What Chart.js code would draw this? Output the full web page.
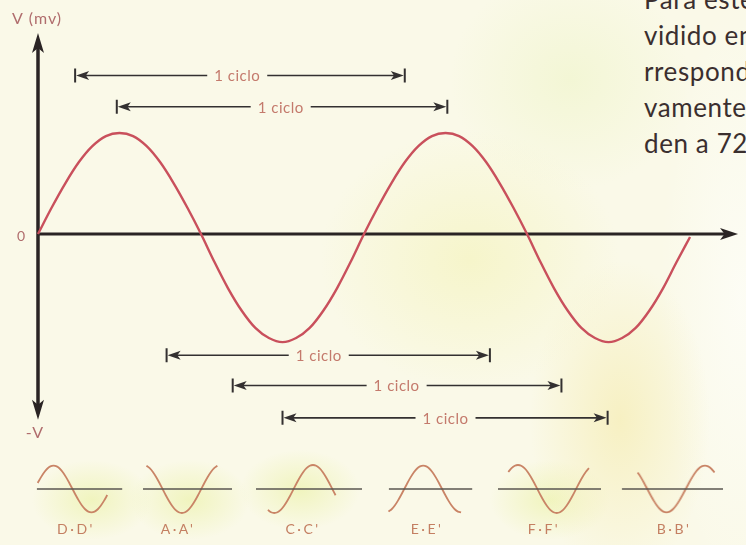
<!DOCTYPE html>
<html>
<head>
<meta charset="utf-8">
<script src="https://cdn.jsdelivr.net/npm/chart.js@4.4.1/dist/chart.umd.min.js"></script>
<style>
html,body{margin:0;padding:0}
body{
width:746px;height:545px;overflow:hidden;position:relative;
font-family:Lato,"Open Sans",sans-serif;
background:
 radial-gradient(ellipse 120px 110px at 570px 80px, rgba(240,245,205,0.7), rgba(240,245,205,0)),
 radial-gradient(ellipse 150px 130px at 470px 260px, rgba(245,244,195,0.8), rgba(245,244,195,0)),
 radial-gradient(ellipse 90px 160px at 620px 420px, rgba(246,238,185,0.8), rgba(246,238,185,0)),
 radial-gradient(ellipse 60px 40px at 92px 500px, rgba(238,243,180,0.8), rgba(238,243,180,0)),
 radial-gradient(ellipse 60px 40px at 190px 500px, rgba(238,243,180,0.8), rgba(238,243,180,0)),
 radial-gradient(ellipse 60px 40px at 300px 490px, rgba(238,243,180,0.8), rgba(238,243,180,0)),
 radial-gradient(ellipse 60px 40px at 550px 500px, rgba(238,243,180,0.8), rgba(238,243,180,0)),
 radial-gradient(ellipse 80px 300px at 740px 300px, rgba(253,253,246,0.9), rgba(253,253,246,0)),
 #faf9e8;
}
#main{position:absolute;left:0;top:0;width:746px;height:545px}
.inset{position:absolute;top:459px;height:60px}
.lbl{position:absolute;top:520px;font-size:14px;letter-spacing:2.5px;color:#c47f62;transform:translateX(-50%);white-space:nowrap}
#texto{position:absolute;left:644px;top:-19px;font-size:26px;line-height:36px;letter-spacing:0.6px;color:#3b2f2f;white-space:nowrap}
</style>
</head>
<body>

<div id="texto">Para este<br>vidido en<br>rrespond<br>vamente.<br>den a 72</div>

<div id="main"><canvas id="waveChart"></canvas></div>

<script>

// onda principal (grados, mV)
const mainDeg = [0,15,30,45,60,75,90,105,120,135,150,165,180,195,210,225,240,255,270,285,300,315,330,345,
360,375,390,405,420,435,450,465,480,495,510,525,540,555,570,585,600,615,630,645,660,675,690,705,720]
const mainVal = [0,0.26,0.5,0.71,0.87,0.97,1,0.97,0.87,0.71,0.5,0.26,0,-0.28,-0.54,-0.76,-0.93,-1.03,-1.07,-1.03,-0.93,-0.76,-0.54,-0.28,
0,0.26,0.5,0.71,0.87,0.97,1,0.97,0.87,0.71,0.5,0.26,0,-0.28,-0.54,-0.76,-0.93,-1.03,-1.07,-1.03,-0.93,-0.76,-0.54,-0.28,-0.03]

// flechas de "1 ciclo"
const cycleStart = [41,87,142,215,270]
const cycleEnd = [405,452,499,578,629]
const cycleLevel = [1.57,1.26,-1.2,-1.5,-1.82]
const cycleLabelAt = [220,268,310,396,450]
const cycleText = "1 ciclo"

// ejes
const axisTop = 1.99
const axisBottom = -1.84
const axisRight = 773

// ondas pequeñas
const shapeVal = [0,0.26,0.5,0.71,0.87,0.97,1,0.97,0.87,0.71,0.5,0.26,0,-0.26,-0.5,-0.71,-0.87,-0.97,-1,-0.97,-0.87,-0.71,-0.5,-0.26]
const insetNames = ["D·D'","A·A'","C·C'","E·E'","F·F'","B·B'"]
const insetFrom = [15,105,-120,-75,45,135]
const insetTo = [345,435,195,270,420,495]
const insetLineFrom = [11,89,-175,-73,-3,61]
const insetLineTo = [416,503,318,323,476,535]

// posicion de las ondas pequeñas en la pagina
const insetLeft = [36,143,256,388,498,621]
const insetLabelX = [76,178,303,427,544,674]
const insetPxPerDeg = 0.215

function arrowHead(ctx,tx,ty,dx,dy,len,half){
let px = -dy, py = dx
ctx.beginPath()
ctx.moveTo(tx,ty)
ctx.lineTo(tx-dx*len+px*half, ty-dy*len+py*half)
ctx.lineTo(tx-dx*len*0.75, ty-dy*len*0.75)
ctx.lineTo(tx-dx*len-px*half, ty-dy*len-py*half)
ctx.closePath()
ctx.fill()
}

const axesPlugin = {
id:'ejes',
beforeDatasetsDraw(chart){
const ctx = chart.ctx
const x = chart.scales.x
const y = chart.scales.y
let x0 = x.getPixelForValue(0)
let y0 = y.getPixelForValue(0)
let yt = y.getPixelForValue(axisTop)
let yb = y.getPixelForValue(axisBottom)
let xr = x.getPixelForValue(axisRight)

ctx.save()
ctx.strokeStyle = '#2a2424'
ctx.fillStyle = '#2a2424'
ctx.lineWidth = 3.5
ctx.beginPath()
ctx.moveTo(x0,yt+12)
ctx.lineTo(x0,yb-12)
ctx.stroke()
arrowHead(ctx,x0,yt,0,-1,20,6)
arrowHead(ctx,x0,yb,0,1,20,6)

ctx.lineWidth = 3
ctx.beginPath()
ctx.moveTo(x0,y0)
ctx.lineTo(xr-10,y0)
ctx.stroke()
arrowHead(ctx,xr,y0,1,0,18,6)

ctx.fillStyle = '#b06d6d'
ctx.textAlign = 'center'
ctx.textBaseline = 'middle'
ctx.font = '14px Lato'
ctx.fillText('0',x0-17,y0+2)
ctx.font = '16px Lato'
ctx.letterSpacing = '1px'
ctx.fillText('V (mv)',x0-1,yt-14)
ctx.fillText('-V',x0-3,yb+13)
ctx.restore()
},
afterDraw(chart){
const ctx = chart.ctx
const x = chart.scales.x
const y = chart.scales.y
ctx.save()
ctx.font = '15px Lato'
ctx.letterSpacing = '0.5px'
ctx.textAlign = 'center'
ctx.textBaseline = 'middle'
let w = ctx.measureText(cycleText).width

cycleStart.forEach((s,i)=>{
let xs = x.getPixelForValue(s)
let xe = x.getPixelForValue(cycleEnd[i])
let yy = y.getPixelForValue(cycleLevel[i])
let xt = x.getPixelForValue(cycleLabelAt[i])

ctx.strokeStyle = '#333030'
ctx.fillStyle = '#333030'
ctx.lineWidth = 1.6
ctx.beginPath()
ctx.moveTo(xs+8,yy)
ctx.lineTo(xt-w/2-7,yy)
ctx.moveTo(xt+w/2+7,yy)
ctx.lineTo(xe-8,yy)
ctx.stroke()

ctx.lineWidth = 2
ctx.beginPath()
ctx.moveTo(xs,yy-7)
ctx.lineTo(xs,yy+7)
ctx.moveTo(xe,yy-7)
ctx.lineTo(xe,yy+7)
ctx.stroke()

arrowHead(ctx,xs+1,yy,-1,0,13,4.5)
arrowHead(ctx,xe-1,yy,1,0,13,4.5)

ctx.fillStyle = '#c47a6c'
ctx.fillText(cycleText,xt,yy+1)
})
ctx.restore()
}
}

function drawMain(){
let pts = mainDeg.map((d,i)=>({x:d,y:mainVal[i]}))

new Chart(document.getElementById('waveChart'),{
type:'line',
data:{
datasets:[{
data:pts,
borderColor:'#c9505c',
borderWidth:2.4,
pointRadius:0,
cubicInterpolationMode:'monotone',
fill:false
}]
},
options:{
responsive:true,
maintainAspectRatio:false,
animation:false,
events:[],
layout:{padding:0},
plugins:{legend:{display:false},tooltip:{enabled:false}},
scales:{
x:{type:'linear',min:-41.96,max:781.8,display:false},
y:{min:-3.079,max:2.317,display:false}
}
},
plugins:[axesPlugin]
})
}

function drawInsets(){
insetNames.forEach((name,i)=>{
let width = (insetLineTo[i]-insetLineFrom[i])*insetPxPerDeg

let box = document.createElement('div')
box.className = 'inset'
box.style.left = insetLeft[i]+'px'
box.style.width = width+'px'
let cv = document.createElement('canvas')
box.appendChild(cv)
document.body.appendChild(box)

let lab = document.createElement('div')
lab.className = 'lbl'
lab.style.left = insetLabelX[i]+'px'
lab.innerText = name
document.body.appendChild(lab)

let wave = []
for(let d = insetFrom[i]; d <= insetTo[i]; d += 15){
let k = ((d/15)%24+24)%24
wave.push({x:d,y:shapeVal[k]})
}

new Chart(cv,{
type:'line',
data:{
datasets:[
{
data:[{x:insetLineFrom[i],y:0},{x:insetLineTo[i],y:0}],
borderColor:'#5a5650',
borderWidth:1.6,
pointRadius:0
},
{
data:wave,
borderColor:'#c98466',
borderWidth:1.8,
pointRadius:0,
cubicInterpolationMode:'monotone'
}
]
},
options:{
responsive:true,
maintainAspectRatio:false,
animation:false,
events:[],
clip:false,
layout:{padding:0},
plugins:{legend:{display:false},tooltip:{enabled:false}},
scales:{
x:{type:'linear',min:insetLineFrom[i],max:insetLineTo[i],display:false},
y:{min:-1.25,max:1.25,display:false}
}
}
})
})
}

drawMain()
drawInsets()
</script>
</body>
</html>
